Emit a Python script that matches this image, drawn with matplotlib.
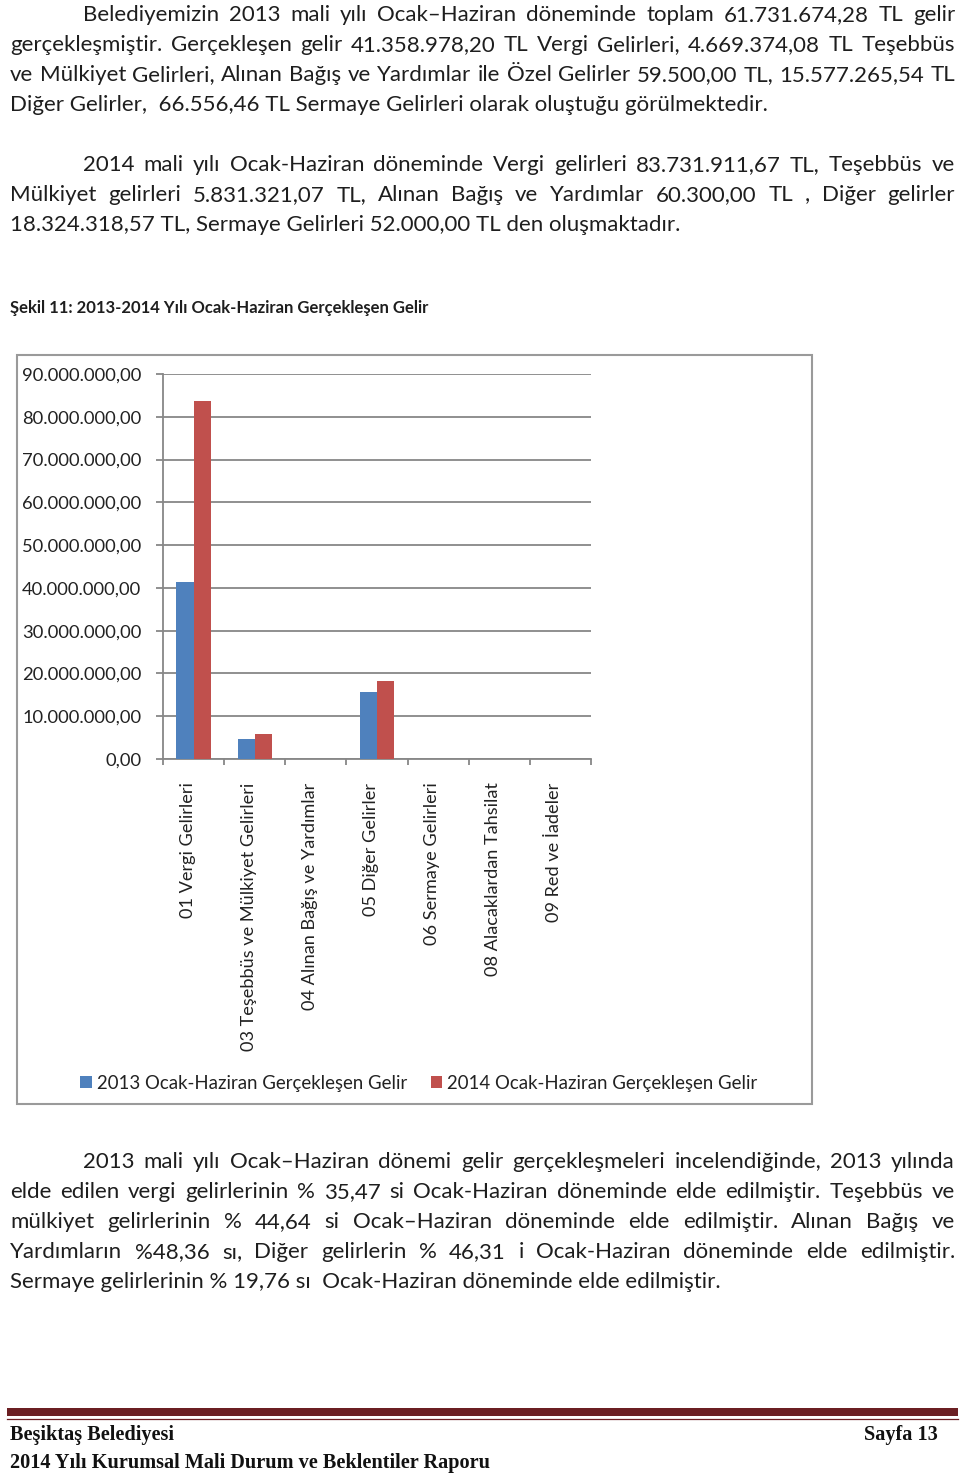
import numpy as np
import matplotlib
matplotlib.use("Agg")
import matplotlib.pyplot as plt
from matplotlib.patches import Rectangle
from matplotlib.transforms import ScaledTranslation
from matplotlib.font_manager import FontProperties

# ---- veri ----
kategoriler = ["01 Vergi Gelirleri", "03 Teşebbüs ve Mülkiyet Gelirleri",
               "04 Alınan Bağış ve Yardımlar", "05 Diğer Gelirler",
               "06 Sermaye Gelirleri", "08 Alacaklardan Tahsilat",
               "09 Red ve İadeler"]
gelir_2013 = [41358978.20, 4669374.08, 59500.00, 15577265.54, 66556.46, 0.0, 0.0]
gelir_2014 = [83731911.67, 5831321.07, 60300.00, 18324318.57, 52000.00, 0.0, 0.0]
seri_adlari = ["2013 Ocak-Haziran Gerçekleşen Gelir", "2014 Ocak-Haziran Gerçekleşen Gelir"]
y_ticks = np.arange(0, 90000001, 10000000)

paragraf1 = ["Belediyemizin 2013 mali yılı Ocak–Haziran döneminde toplam  61.731.674,28 TL gelir",
             "gerçekleşmiştir. Gerçekleşen gelir 41.358.978,20 TL Vergi Gelirleri, 4.669.374,08 TL Teşebbüs",
             "ve Mülkiyet Gelirleri, Alınan Bağış ve Yardımlar ile Özel Gelirler 59.500,00 TL, 15.577.265,54 TL",
             "Diğer Gelirler,  66.556,46 TL Sermaye Gelirleri olarak oluştuğu görülmektedir."]
paragraf2 = ["2014 mali yılı Ocak-Haziran döneminde Vergi gelirleri 83.731.911,67 TL, Teşebbüs ve",
             "Mülkiyet gelirleri 5.831.321,07 TL,  Alınan Bağış ve Yardımlar 60.300,00 TL , Diğer gelirler",
             "18.324.318,57 TL, Sermaye Gelirleri 52.000,00 TL den oluşmaktadır."]
paragraf3 = ["2013 mali yılı Ocak–Haziran dönemi gelir gerçekleşmeleri incelendiğinde, 2013 yılında",
             "elde edilen vergi gelirlerinin % 35,47 si Ocak-Haziran döneminde elde edilmiştir. Teşebbüs ve",
             "mülkiyet gelirlerinin % 44,64 si Ocak–Haziran döneminde elde edilmiştir.  Alınan Bağış ve",
             "Yardımların %48,36 sı, Diğer gelirlerin % 46,31 i Ocak-Haziran döneminde elde edilmiştir.",
             "Sermaye gelirlerinin % 19,76 sı  Ocak-Haziran döneminde elde edilmiştir."]
baslik = "Şekil 11: 2013-2014 Yılı Ocak-Haziran Gerçekleşen Gelir"

W, H = 960, 1474
SOL, SAG = 10, 955

def fx(x):
    return x / W

def fy(y):
    return 1 - y / H

def tl(v):
    return f"{v:,.2f}".replace(",", "#").replace(".", ",").replace("#", ".")

govde = FontProperties(family="Lato", size=16)
yazi_rengi = "#1e1e1e"

fig = plt.figure(figsize=(W / 100, H / 100), dpi=100)
r = fig.canvas.get_renderer()

def paragraf(satirlar, ilk_taban, girinti=73, aralik=30):
    # iki yana yaslı satırlar, son satır sola yaslı
    for i, satir in enumerate(satirlar):
        yb = ilk_taban + i * aralik
        x0 = SOL + (girinti if i == 0 else 0)
        if i == len(satirlar) - 1:
            fig.text(fx(x0), fy(yb), satir, fontproperties=govde, color=yazi_rengi, va="baseline")
            continue
        kelimeler = satir.split()
        yazilar = [fig.text(0, fy(yb), k, fontproperties=govde, color=yazi_rengi, va="baseline")
                   for k in kelimeler]
        gen = [t.get_window_extent(r).width for t in yazilar]
        bosluk = (SAG - x0 - sum(gen)) / (len(kelimeler) - 1)
        x = x0
        for t, g in zip(yazilar, gen):
            t.set_x(fx(x))
            x += g + bosluk

paragraf(paragraf1, 21)
paragraf(paragraf2, 171)
paragraf(paragraf3, 1168)

fig.text(fx(SOL), fy(313), baslik, family="Lato", weight="bold", size=12, color=yazi_rengi, va="baseline")

# ---- grafik çerçevesi ----
fig.patches.append(Rectangle((fx(17), fy(1104)), (812 - 17) / W, (1104 - 355) / H,
                             transform=fig.transFigure, fill=False, edgecolor="#9a9a9a", lw=1.5))

gri = "#878787"
ax = fig.add_axes([fx(163), fy(759), (591 - 163) / W, (759 - 374) / H])
x = np.arange(len(kategoriler))
w = 0.28
ax.bar(x - w / 2, gelir_2013, w, color="#4F81BD", label=seri_adlari[0], zorder=3)
ax.bar(x + w / 2, gelir_2014, w, color="#C0504D", label=seri_adlari[1], zorder=3)
ax.set_xlim(-0.5, len(kategoriler) - 0.5)
ax.set_ylim(0, 90000000)
ax.set_yticks(y_ticks)
ax.set_yticklabels([tl(v) for v in y_ticks], family="Lato", size=13.2, color="#222222")
ax.yaxis.grid(True, color=gri, lw=1.3)
ax.set_axisbelow(True)
for s in ["top", "right"]:
    ax.spines[s].set_visible(False)
for s in ["left", "bottom"]:
    ax.spines[s].set_color(gri)
    ax.spines[s].set_linewidth(1.3)
ax.tick_params(axis="y", length=5, width=1.3, color=gri, pad=10.5)
ax.set_xticks(np.arange(-0.5, len(kategoriler), 1))
ax.set_xticklabels([])
ax.tick_params(axis="x", which="major", length=4.5, width=1.3, color=gri)
ax.set_xticks(x, minor=True)
ax.set_xticklabels(kategoriler, minor=True, rotation=90, family="Lato", size=13.1,
                   color="#222222", va="top", ha="center")
ax.tick_params(axis="x", which="minor", length=0, pad=17)
kay = ScaledTranslation(-0.06, 0, fig.dpi_scale_trans)
for lbl in ax.get_xticklabels(minor=True):
    lbl.set_transform(lbl.get_transform() + kay)

h, l = ax.get_legend_handles_labels()
fig.legend(h, l, loc="center", bbox_to_anchor=(fx(419), fy(1083)), ncol=2, frameon=False,
           prop=FontProperties(family="Lato", size=13.4), handlelength=0.6, handleheight=0.6,
           handletextpad=0.3, columnspacing=1.25, labelcolor="#222222")

# ---- alt bilgi ----
fig.patches.append(Rectangle((fx(7), fy(1416)), (958 - 7) / W, 8 / H,
                             transform=fig.transFigure, color="#6b1f23", lw=0))
fig.lines.append(plt.Line2D([fx(7), fx(958)], [fy(1418.5)] * 2, transform=fig.transFigure,
                            color="#6b1f23", lw=0.9))
alt = dict(family="Liberation Serif", weight="bold", size=14.6, color="#111111", va="baseline")
fig.text(fx(SOL), fy(1440), "Beşiktaş Belediyesi", **alt)
fig.text(fx(938), fy(1440), "Sayfa 13", ha="right", **alt)
fig.text(fx(SOL), fy(1468), "2014 Yılı Kurumsal Mali Durum ve Beklentiler Raporu", **alt)

fig.savefig("out.png", dpi=100)
